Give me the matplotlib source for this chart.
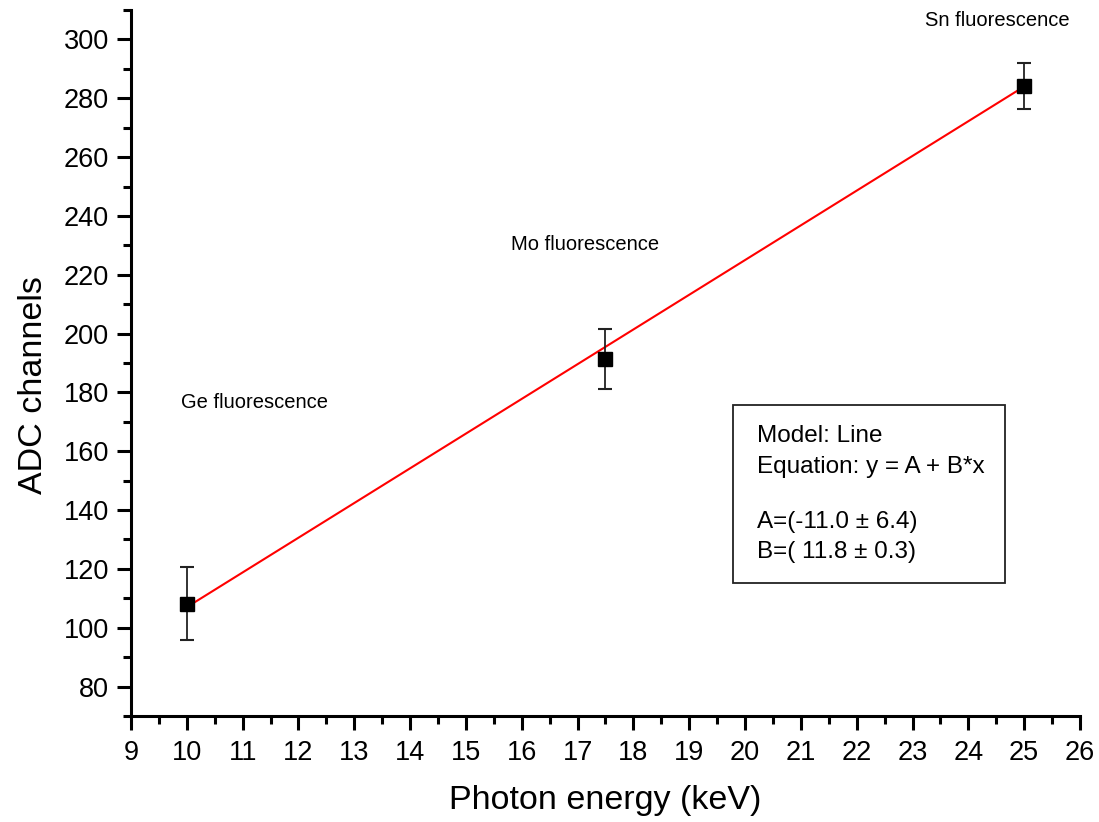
import matplotlib
matplotlib.use("Agg")
import matplotlib.pyplot as plt
import numpy as np
from matplotlib.ticker import MultipleLocator
from matplotlib.patches import Rectangle

energy = [10.0, 17.5, 25.0]
channels = [108.2, 191.5, 284.3]
errors = [12.5, 10.2, 7.8]
labels = ["Ge fluorescence", "Mo fluorescence", "Sn fluorescence"]
label_pos = [(9.9, 176.6), (15.81, 230.2), (23.22, 306.4)]
fit_A = -11.0
fit_B = 11.8
box_lines = ["Model: Line", "Equation: y = A + B*x", "A=(-11.0 \u00b1 6.4)", "B=( 11.8 \u00b1 0.3)"]

plt.rcParams['font.family'] = ['Liberation Sans', 'DejaVu Sans']

fig = plt.figure(figsize=(10.99, 8.22), dpi=100)
ax = fig.add_axes([0.1192, 0.129, 0.8635, 0.8588])

xf = np.array([energy[0], energy[-1]])
ax.plot(xf, fit_A + fit_B * xf, color='#ff0000', lw=1.5, zorder=2)
ax.errorbar(energy, channels, yerr=errors, fmt='s', color='black', ms=9.5,
            ecolor='#222222', elinewidth=1.3, capsize=5, capthick=1.5, zorder=3)

for t, (x, y) in zip(labels, label_pos):
    ax.text(x, y, t, fontsize=14.5, ha='left', va='center')

# fit parameter box
ax.add_patch(Rectangle((0.634, 0.188), 0.287, 0.2525, transform=ax.transAxes,
                       facecolor='white', edgecolor='#222222', lw=1.3, zorder=4))
box_y = [0.397, 0.353, 0.275, 0.232]
for t, y in zip(box_lines, box_y):
    ax.text(0.66, y, t, transform=ax.transAxes, fontsize=17.5, va='center', ha='left', zorder=5)

ax.set_xlim(9, 26)
ax.set_ylim(70, 310)
ax.xaxis.set_major_locator(MultipleLocator(1))
ax.xaxis.set_minor_locator(MultipleLocator(0.5))
ax.yaxis.set_minor_locator(MultipleLocator(10))
ax.set_yticks(np.arange(80, 301, 20))

for s in ['top', 'right']:
    ax.spines[s].set_visible(False)
for s in ['left', 'bottom']:
    ax.spines[s].set_linewidth(2.2)

ax.tick_params(which='major', direction='out', length=10, width=2.2, labelsize=19.5)
ax.tick_params(axis='y', which='major', pad=6)
ax.tick_params(axis='x', which='major', pad=7)
ax.tick_params(which='minor', direction='out', length=6, width=2.2)

ax.set_xlabel("Photon energy (keV)", fontsize=24.5, labelpad=14)
ax.set_ylabel("ADC channels", fontsize=24.5)
ax.yaxis.set_label_coords(-0.086, 0.469)

fig.savefig("out.png", dpi=100)
